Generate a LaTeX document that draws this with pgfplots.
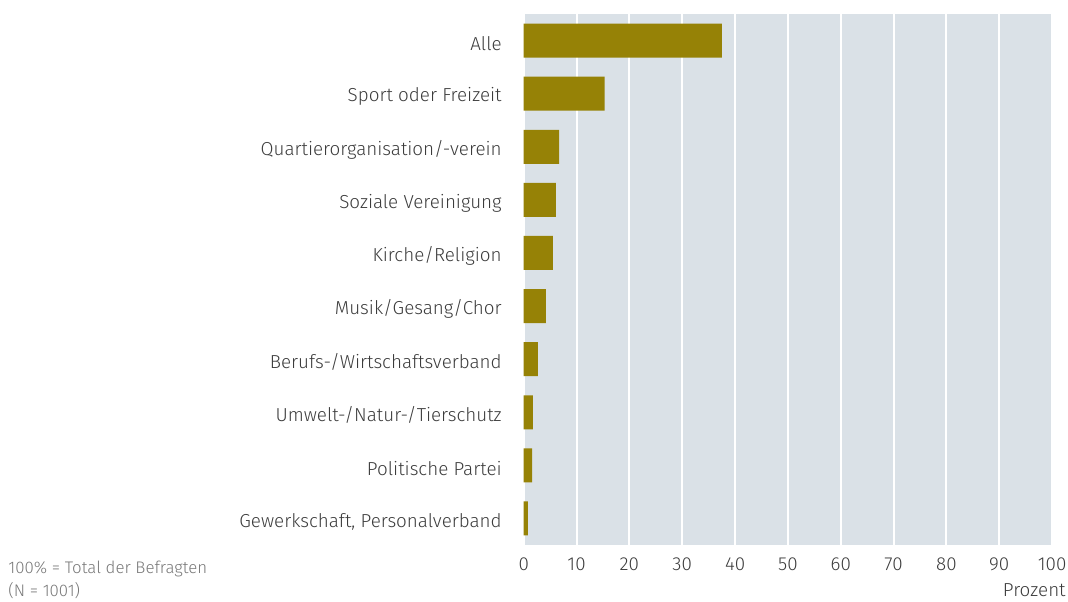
\documentclass[border=0pt]{standalone}
\usepackage{pgfplots}
\pgfplotsset{compat=1.18}
\usepackage{fontspec}
\setmainfont{Fira Sans Light}
\definecolor{barc}{RGB}{150,130,6}
\definecolor{bgc}{RGB}{218,225,231}
\definecolor{txt}{RGB}{60,60,60}
\definecolor{foot}{RGB}{120,120,120}
\begin{document}
\begin{tikzpicture}
\path[use as bounding box] (0,0) rectangle (534pt,-300.5pt);
\begin{axis}[
  at={(261.85pt,-7pt)}, anchor=north west,
  scale only axis, width=264.2pt, height=265.5pt,
  xbar, bar width=0.64,
  xmin=0, xmax=100, ymin=-0.5, ymax=9.5, y dir=reverse,
  xtick={0,10,...,100}, ytick={0,...,9},
  yticklabels={Alle,Sport oder Freizeit,Quartierorganisation/-verein,Soziale Vereinigung,Kirche/Religion,Musik/Gesang/Chor,Berufs-/Wirtschaftsverband,Umwelt-/Natur-/Tierschutz,Politische Partei,{Gewerkschaft, Personalverband}},
  axis background/.style={fill=bgc},
  axis line style={draw=none},
  major tick length=0pt,
  xmajorgrids, grid style={white, line width=1pt},
  tick label style={font=\fontsize{9.4}{11}\selectfont, text=txt},
  /pgf/number format/assume math mode=true,
  xticklabel style={yshift=-3pt},
  yticklabel style={xshift=-7.5pt, yshift=-1.5pt},
]
\addplot[fill=barc, draw=none] coordinates {
(37.5,0) (15.3,1) (6.7,2) (6.1,3) (5.5,4) (4.2,5) (2.7,6) (1.75,7) (1.6,8) (0.8,9)};
\end{axis}
\node[anchor=south east, inner sep=0pt, text=txt, font=\fontsize{9.4}{11}\selectfont] at (533pt,-298.5pt) {Prozent};
\node[anchor=north west, inner sep=0pt, align=left, text=foot, font=\fontsize{8.4}{11.5}\selectfont] at (4pt,-280.5pt) {100\% = Total der Befragten\\(N = 1001)};
\end{tikzpicture}
\end{document}
